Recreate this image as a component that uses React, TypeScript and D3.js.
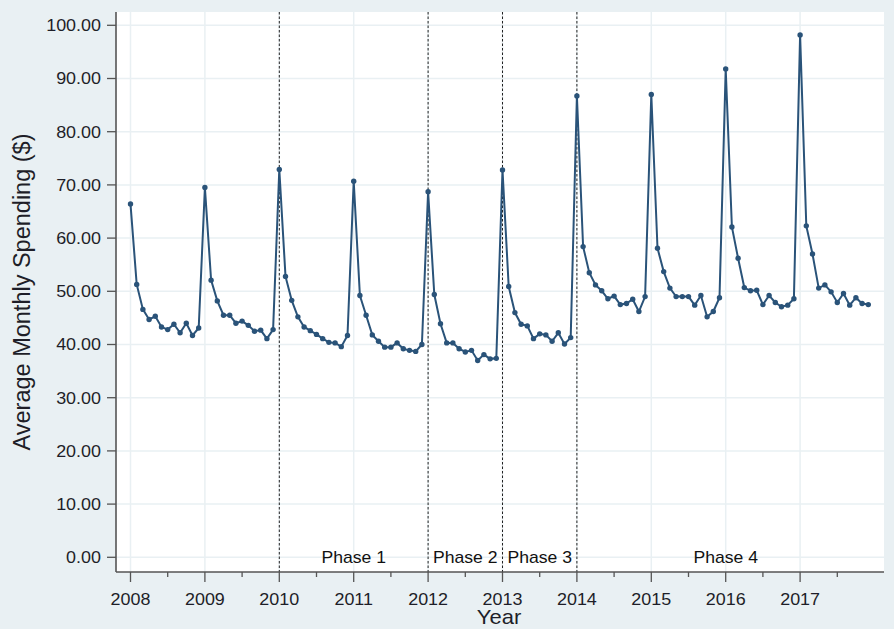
import React from "react";
import * as d3 from "d3";

const years = [2008, 2009, 2010, 2011, 2012, 2013, 2014, 2015, 2016, 2017];
const yTicks = [0, 10, 20, 30, 40, 50, 60, 70, 80, 90, 100];
const spending2008 = [66.4, 51.3, 46.6, 44.7, 45.3, 43.3, 42.8, 43.8, 42.2, 44.0, 41.7, 43.1];
const spending2009 = [69.5, 52.1, 48.2, 45.5, 45.5, 44.0, 44.4, 43.6, 42.5, 42.7, 41.1, 42.8];
const spending2010 = [72.9, 52.8, 48.3, 45.2, 43.3, 42.6, 41.9, 41.1, 40.4, 40.3, 39.6, 41.7];
const spending2011 = [70.7, 49.2, 45.5, 41.8, 40.6, 39.5, 39.5, 40.3, 39.2, 38.9, 38.7, 40.0];
const spending2012 = [68.7, 49.4, 43.9, 40.3, 40.3, 39.2, 38.6, 38.9, 37.0, 38.1, 37.3, 37.4];
const spending2013 = [72.8, 50.9, 46.0, 43.8, 43.5, 41.1, 42.0, 41.8, 40.6, 42.2, 40.1, 41.3];
const spending2014 = [86.7, 58.4, 53.5, 51.2, 50.1, 48.6, 49.1, 47.5, 47.7, 48.5, 46.2, 49.0];
const spending2015 = [87.0, 58.1, 53.7, 50.6, 49.0, 49.0, 49.0, 47.4, 49.2, 45.2, 46.2, 48.8];
const spending2016 = [91.8, 62.1, 56.2, 50.7, 50.1, 50.2, 47.5, 49.2, 47.9, 47.1, 47.4, 48.6];
const spending2017 = [98.2, 62.3, 57.0, 50.6, 51.2, 49.9, 47.9, 49.6, 47.4, 48.8, 47.7, 47.5];
const phaseBreaks = [2010, 2012, 2013, 2014];
const phaseLabels = ["Phase 1", "Phase 2", "Phase 3", "Phase 4"];
const phaseStarts = [2010, 2012, 2013, 2014];
const phaseEnds = [2012, 2013, 2014, 2018];

const allYears = [spending2008, spending2009, spending2010, spending2011, spending2012,
  spending2013, spending2014, spending2015, spending2016, spending2017];

function SText({ x, y, anchor, size, children, fill = "#1e1e28" }: any) {
  return (
    <g transform={`translate(${x},${y}) scale(1.1,1)`}>
      <text x={0} y={0} textAnchor={anchor} fontSize={size} fill={fill}>{children}</text>
    </g>
  );
}

export default function App() {
  const W = 894, H = 629;
  const left = 116, right = 884, top = 12, bottom = 572;
  const x = d3.scaleLinear().domain([2008, 2009]).range([130.5, 204.9]);
  const y = d3.scaleLinear().domain([0, 100]).range([557.3, 25.3]);
  const data = allYears.flatMap((arr, i) => arr.map((v, m) => ({ t: years[i] + m / 12, v })));
  const line = d3.line<{ t: number; v: number }>().x(d => x(d.t)).y(d => y(d.v));
  const halfTicks = d3.range(2008.5, 2018, 1);
  const font = "'Liberation Sans', Arial, sans-serif";
  const lineColor = "#2a5379";

  return (
    <svg width={W} height={H} style={{ position: "absolute", left: 0, top: 0 }} fontFamily={font}>
      <rect x={0} y={0} width={W} height={H} fill="#e9f0f3" />
      <rect x={left} y={top} width={right - left} height={bottom - top} fill="#ffffff" />
      {yTicks.map(t => (
        <line key={"gy" + t} x1={left} x2={right} y1={y(t)} y2={y(t)} stroke="#e9f0f3" strokeWidth={1.5} />
      ))}
      {years.map(t => (
        <line key={"gx" + t} x1={x(t)} x2={x(t)} y1={top} y2={bottom} stroke="#e9f0f3" strokeWidth={1.5} />
      ))}
      {phaseBreaks.map(t => (
        <line key={"pb" + t} x1={x(t)} x2={x(t)} y1={top} y2={bottom} stroke="#222" strokeWidth={1} strokeDasharray="2.5,2" />
      ))}
      {phaseLabels.map((l, i) => (
        <SText key={l} x={x((phaseStarts[i] + phaseEnds[i]) / 2)} y={y(0) + 6} anchor="middle" size={16} fill="#111">{l}</SText>
      ))}
      <path d={line(data) || ""} fill="none" stroke={lineColor} strokeWidth={2} />
      {data.map((d, i) => (
        <circle key={i} cx={x(d.t)} cy={y(d.v)} r={2.7} fill={lineColor} />
      ))}
      <line x1={left} x2={left} y1={top} y2={bottom} stroke="#555" strokeWidth={1.6} />
      <line x1={left} x2={right} y1={bottom} y2={bottom} stroke="#555" strokeWidth={1.6} />
      {yTicks.map(t => (
        <g key={"yt" + t}>
          <line x1={left - 9} x2={left} y1={y(t)} y2={y(t)} stroke="#555" strokeWidth={1.3} />
          <SText x={left - 15} y={y(t) + 5.8} anchor="end" size={16.3}>{t.toFixed(2)}</SText>
        </g>
      ))}
      {years.map(t => (
        <g key={"xt" + t}>
          <line x1={x(t)} x2={x(t)} y1={bottom} y2={bottom + 10} stroke="#555" strokeWidth={1.3} />
          <SText x={x(t)} y={bottom + 33} anchor="middle" size={16.3}>{t}</SText>
        </g>
      ))}
      {halfTicks.map(t => (
        <line key={"ht" + t} x1={x(t)} x2={x(t)} y1={bottom} y2={bottom + 5} stroke="#555" strokeWidth={1.3} />
      ))}
      <SText x={499} y={624} anchor="middle" size={20}>Year</SText>
      <text transform={`translate(30, ${292}) rotate(-90)`} textAnchor="middle" fontSize={23.5} fill="#1e1e28">Average Monthly Spending ($)</text>
    </svg>
  );
}
